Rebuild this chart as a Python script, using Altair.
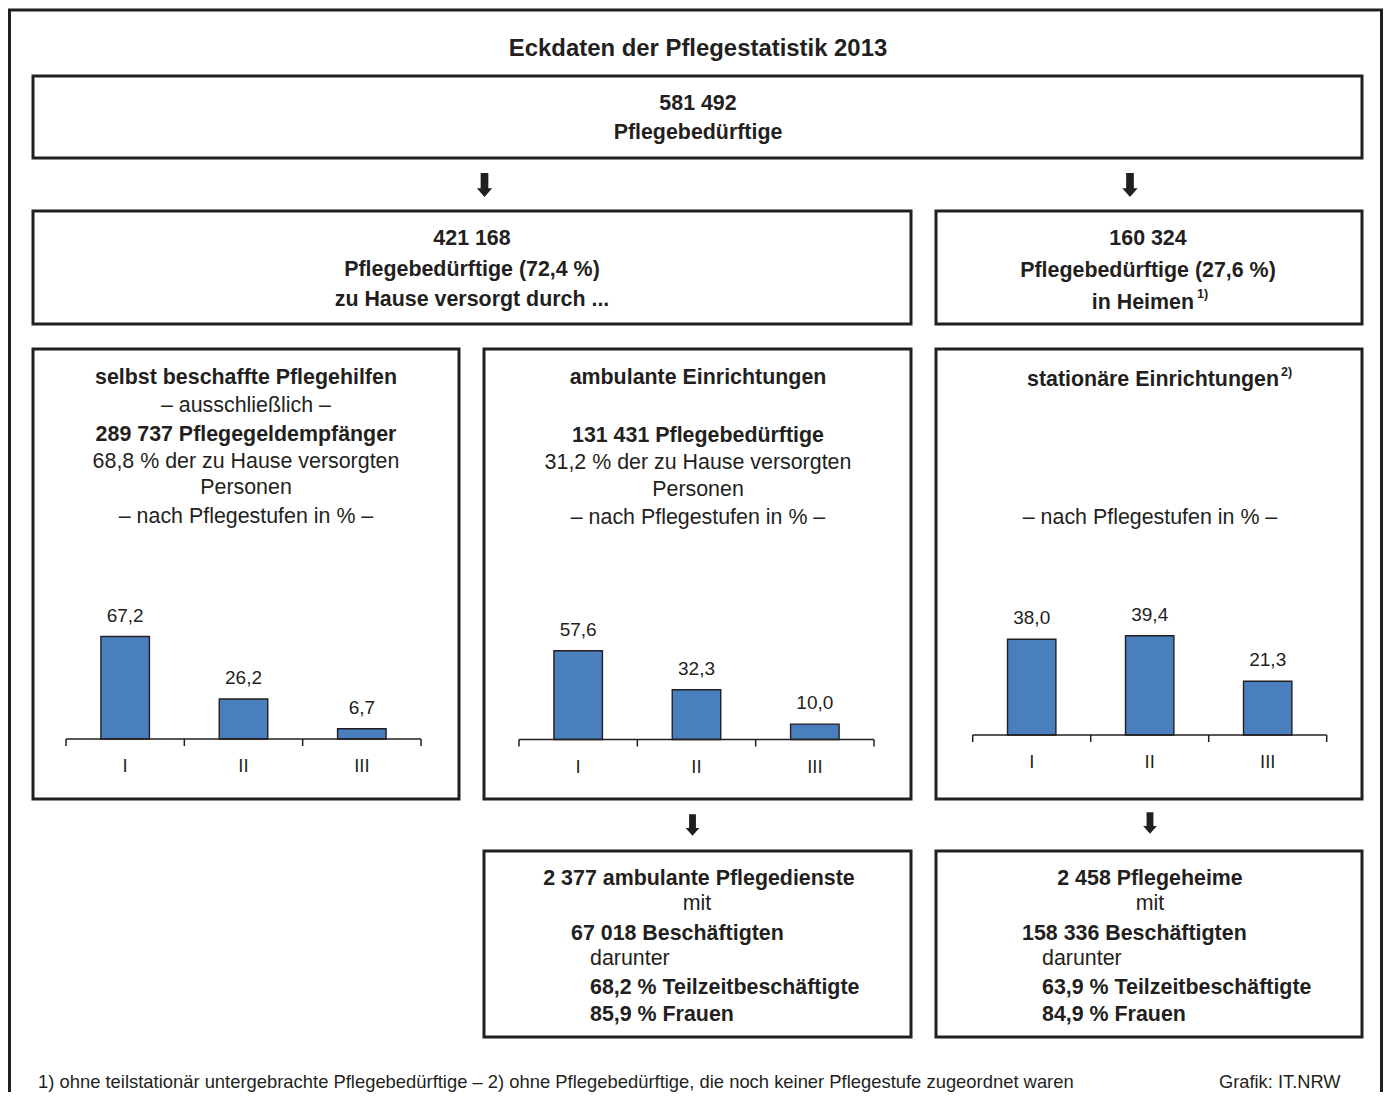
import altair as alt
import pandas as pd

# ---------------- data ----------------
stufen = ["I", "II", "III"]
pflegegeld_anteile = [67.2, 26.2, 6.7]
ambulant_anteile = [57.6, 32.3, 10.0]
stationaer_anteile = [38.0, 39.4, 21.3]

titel = "Eckdaten der Pflegestatistik 2013"
gesamt = ["581 492", "Pflegebedürftige"]
zu_hause = ["421 168", "Pflegebedürftige (72,4 %)", "zu Hause versorgt durch ..."]
in_heimen = ["160 324", "Pflegebedürftige (27,6 %)", "in Heimen"]
pflegegeld = ["selbst beschaffte Pflegehilfen", "– ausschließlich –", "289 737 Pflegegeldempfänger",
              "68,8 % der zu Hause versorgten", "Personen", "– nach Pflegestufen in % –"]
ambulant = ["ambulante Einrichtungen", "131 431 Pflegebedürftige", "31,2 % der zu Hause versorgten",
            "Personen", "– nach Pflegestufen in % –"]
stationaer = ["stationäre Einrichtungen", "– nach Pflegestufen in % –"]
dienste = ["2 377 ambulante Pflegedienste", "mit", "67 018 Beschäftigten", "darunter",
           "68,2 % Teilzeitbeschäftigte", "85,9 % Frauen"]
heime = ["2 458 Pflegeheime", "mit", "158 336 Beschäftigten", "darunter",
         "63,9 % Teilzeitbeschäftigte", "84,9 % Frauen"]
fussnoten = ["1)", "2)"]
fussnote_text = ("1) ohne teilstationär untergebrachte Pflegebedürftige – "
                 "2) ohne Pflegebedürftige, die noch keiner Pflegestufe zugeordnet waren")
quelle = "Grafik: IT.NRW"

# ---------------- layout / style ----------------
W, H = 1375, 1084
OFF = 8
INK = "#231f20"
BLUE = "#4a7fbd"
FONT = "Liberation Sans"

SX = alt.Scale(domain=[OFF, OFF + W], range=[0, W], nice=False, zero=False)
SY = alt.Scale(domain=[OFF, OFF + H], range=[0, H], nice=False, zero=False)
PX = alt.X("x:Q", scale=SX, axis=None)
PY = alt.Y("y:Q", scale=SY, axis=None)

rows = []


def add(kind, text, x, y):
    rows.append(dict(kind=kind, text=text, x=x, y=y))


add("title", titel, 698, 56)
add("bc", gesamt[0], 698, 110)
add("bc", gesamt[1], 698, 138.5)
for t, y in zip(zu_hause, [245, 276, 306]):
    add("bc", t, 472, y)
add("bc", in_heimen[0], 1148, 245)
add("bc", in_heimen[1], 1148, 277)
add("br", in_heimen[2], 1194, 309)
add("sup", fussnoten[0], 1197, 297.5)

for t, k, y in zip(pflegegeld, ["bc", "rc", "bc", "rc", "rc", "rc"], [384, 412, 441, 468, 494, 523]):
    add(k, t, 246, y)
for t, k, y in zip(ambulant, ["bc", "bc", "rc", "rc", "rc"], [384, 442, 469, 496, 524]):
    add(k, t, 698, y)
add("br", stationaer[0], 1279, 386)
add("sup", fussnoten[1], 1281, 375.5)
add("rc", stationaer[1], 1150, 524)

for t, k, x, y in zip(dienste, ["bc", "rc", "bl", "rl", "bl", "bl"],
                      [699, 697, 571, 590, 590, 590], [885, 910, 939.5, 964.5, 994, 1021]):
    add(k, t, x, y)
for t, k, x, y in zip(heime, ["bc", "rc", "bl", "rl", "bl", "bl"],
                      [1150, 1150, 1022, 1042, 1042, 1042], [885, 910, 939.5, 964.5, 994, 1021]):
    add(k, t, x, y)
add("foot", fussnote_text, 38, 1087.5)
add("credit", quelle, 1219, 1088)

lines = pd.DataFrame(rows)

styles = {
    "title": dict(fontSize=23.9, fontWeight="bold", align="center"),
    "bc": dict(fontSize=21.4, fontWeight="bold", align="center"),
    "rc": dict(fontSize=21.4, fontWeight="normal", align="center"),
    "bl": dict(fontSize=21.4, fontWeight="bold", align="left"),
    "rl": dict(fontSize=21.4, fontWeight="normal", align="left"),
    "br": dict(fontSize=21.4, fontWeight="bold", align="right"),
    "sup": dict(fontSize=12.5, fontWeight="bold", align="left"),
    "foot": dict(fontSize=18.4, fontWeight="normal", align="left"),
    "credit": dict(fontSize=18.3, fontWeight="normal", align="left"),
}

boxes = pd.DataFrame({
    "x": [33, 33, 936, 33, 484, 936, 484, 936],
    "y": [76, 211, 211, 349, 349, 349, 851, 851],
    "x2": [1362, 911, 1362, 459, 911, 1362, 911, 1362],
    "y2": [158, 324, 324, 799, 799, 799, 1037, 1037],
})
frame = pd.DataFrame({"x": [9.5], "y": [10], "x2": [1381.5], "y2": [1200]})
arrows = pd.DataFrame({"x": [484.5, 1130, 692.5, 1150], "y": [185, 185, 825, 823],
                       "s": [576, 576, 460, 460]})
ARROW = "M-0.32,-1 L0.32,-1 L0.32,0.27 L0.64,0.27 L0,1 L-0.64,0.27 L-0.32,0.27 Z"

layers = []
layers.append(alt.Chart(frame).mark_rect(fill="white", fillOpacity=0, stroke=INK, strokeWidth=3).encode(
    x=PX, y=PY, x2="x2:Q", y2="y2:Q"))
layers.append(alt.Chart(boxes).mark_rect(fill="white", fillOpacity=0, stroke=INK, strokeWidth=3).encode(
    x=PX, y=PY, x2="x2:Q", y2="y2:Q"))
layers.append(alt.Chart(arrows).mark_point(shape=ARROW, filled=True, color=INK, opacity=1).encode(
    x=PX, y=PY, size=alt.Size("s:Q", scale=None, legend=None)))

for kind, st in styles.items():
    layers.append(alt.Chart(lines).transform_filter(alt.datum.kind == kind).mark_text(
        font=FONT, color=INK, baseline="alphabetic", **st).encode(x=PX, y=PY, text="text:N"))


def fmt(v):
    return f"{v:.1f}".replace(".", ",")


def panel(values, x0, x1, base, k):
    df = pd.DataFrame({"stufe": stufen, "wert": values, "label": [fmt(v) for v in values]})
    xs = alt.Scale(type="band", domain=stufen, range=[x0 - OFF, x1 - OFF], paddingInner=0, paddingOuter=0)
    ys = alt.Scale(domain=[0, 100], range=[base - OFF, base - OFF - 100 * k], nice=False, zero=False)
    X = alt.X("stufe:N", scale=xs, axis=None)
    Y = alt.Y("wert:Q", scale=ys, axis=None)
    Y0 = alt.YDatum(0, scale=ys, axis=None, type="quantitative")
    out = []
    out.append(alt.Chart(df).mark_bar(width=alt.RelativeBandSize(0.41), color=BLUE, stroke=INK,
                                      strokeWidth=1.4).encode(x=X, y=Y))
    out.append(alt.Chart(df).mark_text(font=FONT, fontSize=19, color=INK, dy=-15, baseline="alphabetic",
                                       align="center").encode(x=X, y=Y, text="label:N"))
    out.append(alt.Chart(df).mark_text(font=FONT, fontSize=18.5, color=INK, dy=33, baseline="alphabetic",
                                       align="center").encode(x=X, y=Y0, text="stufe:N"))
    out.append(alt.Chart(df).mark_rule(color=INK, strokeWidth=1.5, y2Offset=7).encode(
        x=alt.X("stufe:N", scale=xs, axis=None, bandPosition=0), y=Y0, y2=alt.datum(0)))
    out.append(alt.Chart(df).transform_filter(alt.datum.stufe == stufen[-1]).mark_rule(
        color=INK, strokeWidth=1.5, y2Offset=7).encode(
        x=alt.X("stufe:N", scale=xs, axis=None, bandPosition=1), y=Y0, y2=alt.datum(0)))
    base_df = pd.DataFrame({"start": [stufen[0]], "end": [stufen[-1]]})
    out.append(alt.Chart(base_df).mark_rule(color=INK, strokeWidth=1.5).encode(
        x=alt.X("start:N", scale=xs, axis=None, bandPosition=0),
        x2=alt.X2("end:N", bandPosition=1), y=Y0))
    return out


layers += panel(pflegegeld_anteile, 66, 421, 739, 1.525)
layers += panel(ambulant_anteile, 519, 874, 739.5, 1.54)
layers += panel(stationaer_anteile, 972.7, 1326.7, 735, 2.52)

chart = alt.layer(*layers).resolve_scale(x="independent", y="independent").properties(
    width=W, height=H, padding=0, autosize=alt.AutoSizeParams(type="none"),
    background="white").configure_view(stroke=None)

chart.save("out.html", embed_options={"renderer": "svg", "actions": False})
